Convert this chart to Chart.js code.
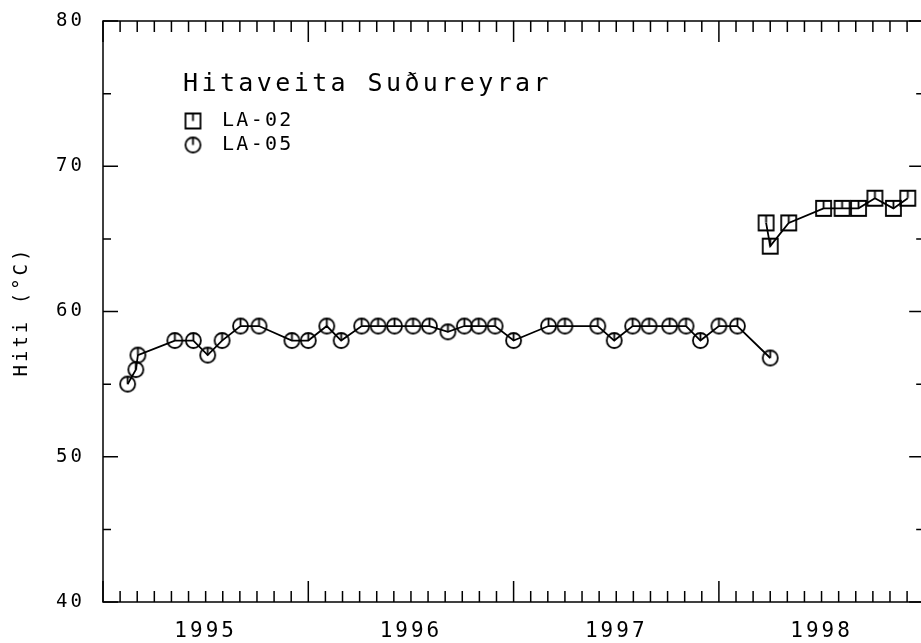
<!DOCTYPE html>
<html>
<head>
<meta charset="utf-8">
<script src="https://cdn.jsdelivr.net/npm/chart.js@4"></script>
<style>
  html, body { margin: 0; padding: 0; overflow: hidden; background: #fff; }
  canvas { display: block; }
</style>
</head>
<body>
<canvas id="myChart" width="930" height="643"></canvas>
<script>
const chartTitle = 'Hitaveita Suðureyrar';
const yTitle = 'Hiti (°C)';

// LA-02 (squares), time in decimal years
const la02Time = [1998.23, 1998.25, 1998.34, 1998.51, 1998.60, 1998.68, 1998.76, 1998.85, 1998.92];
const la02Temp = [66.1, 64.5, 66.1, 67.1, 67.1, 67.1, 67.8, 67.1, 67.8];

// LA-05 (circles)
const la05Time = [1995.12, 1995.16, 1995.17, 1995.35, 1995.44, 1995.51, 1995.58, 1995.67, 1995.76,
  1995.92, 1996.00, 1996.09, 1996.16, 1996.26, 1996.34, 1996.42, 1996.51, 1996.59, 1996.68,
  1996.76, 1996.83, 1996.91, 1997.00, 1997.17, 1997.25, 1997.41, 1997.49, 1997.58, 1997.66,
  1997.76, 1997.84, 1997.91, 1998.00, 1998.09, 1998.25];
const la05Temp = [55, 56, 57, 58, 58, 57, 58, 59, 59,
  58, 58, 59, 58, 59, 59, 59, 59, 59, 58.6,
  59, 59, 59, 58, 59, 59, 59, 58, 59, 59,
  59, 59, 58, 59, 59, 56.8];

const yearStart = 1995;
const yearEnd = 1999;

// plotter style markers: open shape with a stroke from the top to the centre
function marker(shape) {
  const c = document.createElement('canvas');
  c.width = 19;
  c.height = 19;
  const g = c.getContext('2d');
  g.strokeStyle = '#000';
  g.lineWidth = 1.8;
  g.beginPath();
  if (shape === 'circle') {
    g.arc(9.5, 9.5, 7.5, 0, Math.PI * 2);
  } else {
    g.rect(2, 2, 15, 15);
  }
  g.moveTo(9.5, 2);
  g.lineTo(9.5, 9.5);
  g.stroke();
  return c;
}

const squareMark = marker('square');
const circleMark = marker('circle');

const toPoints = (xs, ys) => xs.map((x, i) => ({ x: x, y: ys[i] }));

const frame = {
  id: 'frame',
  beforeDraw(chart) {
    chart.ctx.letterSpacing = '3px';
  },
  afterDraw(chart) {
    const { ctx, chartArea: a, scales: { x, y } } = chart;
    ctx.save();
    ctx.strokeStyle = '#000';
    ctx.lineWidth = 1.5;
    ctx.strokeRect(a.left, a.top, a.right - a.left, a.bottom - a.top);

    // inward ticks on all four sides
    ctx.beginPath();
    x.ticks.forEach(t => {
      const px = x.getPixelForValue(t.value);
      const m = Math.round((t.value - yearStart) * 12);
      const len = m % 12 === 0 ? 21 : 11;
      ctx.moveTo(px, a.bottom); ctx.lineTo(px, a.bottom - len);
      ctx.moveTo(px, a.top); ctx.lineTo(px, a.top + len);
    });
    y.ticks.forEach(t => {
      const py = y.getPixelForValue(t.value);
      const len = t.value % 10 === 0 ? 15 : 8;
      ctx.moveTo(a.left, py); ctx.lineTo(a.left + len, py);
      ctx.moveTo(a.right, py); ctx.lineTo(a.right - len, py);
    });
    ctx.stroke();

    // title and legend inside the plot
    ctx.fillStyle = '#000';
    ctx.textBaseline = 'middle';
    ctx.textAlign = 'left';
    ctx.letterSpacing = '3.4px';
    ctx.font = '25px "DejaVu Sans Mono"';
    ctx.fillText(chartTitle, a.left + 80, 84);

    ctx.letterSpacing = '2.3px';
    ctx.font = '20px "DejaVu Sans Mono"';
    chart.data.datasets.forEach((ds, i) => {
      const cy = 121 + i * 24;
      const img = ds.pointStyle;
      ctx.drawImage(img, a.left + 90 - img.width / 2, cy - img.height / 2);
      ctx.fillText(ds.label, a.left + 119, cy);
    });
    ctx.restore();
  }
};

new Chart(document.getElementById('myChart'), {
  type: 'line',
  data: {
    datasets: [{
      label: 'LA-02',
      data: toPoints(la02Time, la02Temp),
      borderColor: '#000',
      borderWidth: 1.8,
      pointStyle: squareMark,
      tension: 0,
      fill: false
    }, {
      label: 'LA-05',
      data: toPoints(la05Time, la05Temp),
      borderColor: '#000',
      borderWidth: 1.8,
      pointStyle: circleMark,
      tension: 0,
      fill: false
    }]
  },
  options: {
    responsive: false,
    devicePixelRatio: 1,
    animation: false,
    layout: { padding: { top: 21, right: 4, bottom: 0, left: 0 } },
    plugins: {
      legend: { display: false },
      tooltip: { enabled: false }
    },
    scales: {
      x: {
        type: 'linear',
        min: yearStart,
        max: yearEnd,
        grid: { display: false },
        border: { display: false },
        afterBuildTicks(scale) {
          const n = (yearEnd - yearStart) * 12;
          scale.ticks = Array.from({ length: n + 1 }, (_, i) => ({ value: yearStart + i / 12 }));
        },
        afterFit(scale) {
          scale.height = 41;
          scale.paddingLeft = 0;
          scale.paddingRight = 0;
        },
        ticks: {
          autoSkip: false,
          maxRotation: 0,
          padding: 9,
          color: '#000',
          font: { family: 'DejaVu Sans Mono', size: 21 },
          callback(value) {
            const m = Math.round((value - yearStart) * 12);
            return m % 12 === 6 ? String(yearStart + (m - 6) / 12) : '';
          }
        }
      },
      y: {
        min: 40,
        max: 80,
        grid: { display: false },
        border: { display: false },
        afterFit(scale) {
          scale.width = 103;
          scale.paddingTop = 0;
          scale.paddingBottom = 0;
        },
        title: {
          display: true,
          text: yTitle,
          color: '#000',
          padding: { top: 11, bottom: 0 },
          font: { family: 'DejaVu Sans Mono', size: 19 }
        },
        ticks: {
          stepSize: 5,
          padding: 10,
          color: '#000',
          font: { family: 'DejaVu Sans Mono', size: 19 },
          callback: value => (value % 10 === 0 ? value : '')
        }
      }
    }
  },
  plugins: [frame]
});
</script>
</body>
</html>
